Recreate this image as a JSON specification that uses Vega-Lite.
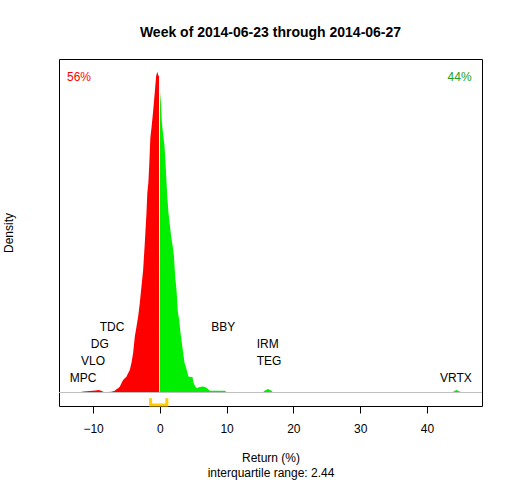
{
  "$schema": "https://vega.github.io/schema/vega-lite/v6.json",
  "autosize": {"type": "none"},
  "padding": {"left": 59, "top": 59, "right": 30, "bottom": 74},
  "width": 423,
  "height": 347,
  "background": "white",
  "title": {
    "text": "Week of 2014-06-23 through 2014-06-27",
    "font": "Liberation Sans",
    "fontSize": 14,
    "fontWeight": "bold",
    "color": "black",
    "anchor": "middle",
    "offset": 19
  },
  "datasets": {
    "density": [
      {"ret": -12.3, "dens": 0, "side": "neg"},
      {"ret": -11.4, "dens": 0.0008, "side": "neg"},
      {"ret": -10.5, "dens": 0.0012, "side": "neg"},
      {"ret": -9.6, "dens": 0.0016, "side": "neg"},
      {"ret": -9.15, "dens": 0.002, "side": "neg"},
      {"ret": -8.7, "dens": 0.0012, "side": "neg"},
      {"ret": -8.25, "dens": 0, "side": "neg"},
      {"ret": -7.8, "dens": 0.0004, "side": "neg"},
      {"ret": -7.25, "dens": 0.0006, "side": "neg"},
      {"ret": -6.75, "dens": 0.0014, "side": "neg"},
      {"ret": -6.5, "dens": 0.0025, "side": "neg"},
      {"ret": -6.25, "dens": 0.0033, "side": "neg"},
      {"ret": -6.0, "dens": 0.0045, "side": "neg"},
      {"ret": -5.75, "dens": 0.0072, "side": "neg"},
      {"ret": -5.5, "dens": 0.0098, "side": "neg"},
      {"ret": -5.25, "dens": 0.0111, "side": "neg"},
      {"ret": -5.0, "dens": 0.0123, "side": "neg"},
      {"ret": -4.75, "dens": 0.015, "side": "neg"},
      {"ret": -4.5, "dens": 0.0176, "side": "neg"},
      {"ret": -4.25, "dens": 0.023, "side": "neg"},
      {"ret": -4.0, "dens": 0.0309, "side": "neg"},
      {"ret": -3.75, "dens": 0.0436, "side": "neg"},
      {"ret": -3.5, "dens": 0.0514, "side": "neg"},
      {"ret": -3.25, "dens": 0.0592, "side": "neg"},
      {"ret": -3.0, "dens": 0.0699, "side": "neg"},
      {"ret": -2.75, "dens": 0.0827, "side": "neg"},
      {"ret": -2.5, "dens": 0.0957, "side": "neg"},
      {"ret": -2.25, "dens": 0.1168, "side": "neg"},
      {"ret": -2.0, "dens": 0.1402, "side": "neg"},
      {"ret": -1.87, "dens": 0.1559, "side": "neg"},
      {"ret": -1.72, "dens": 0.1637, "side": "neg"},
      {"ret": -1.57, "dens": 0.1793, "side": "neg"},
      {"ret": -1.42, "dens": 0.1988, "side": "neg"},
      {"ret": -1.2, "dens": 0.209, "side": "neg"},
      {"ret": -0.97, "dens": 0.2215, "side": "neg"},
      {"ret": -0.75, "dens": 0.2348, "side": "neg"},
      {"ret": -0.55, "dens": 0.2473, "side": "neg"},
      {"ret": -0.37, "dens": 0.2504, "side": "neg"},
      {"ret": -0.22, "dens": 0.2473, "side": "neg"},
      {"ret": -0.12, "dens": 0.2473, "side": "neg"},
      {"ret": -0.1, "dens": 0, "side": "neg"},
      {"ret": 0.01, "dens": 0, "side": "pos"},
      {"ret": 0.03, "dens": 0.2348, "side": "pos"},
      {"ret": 0.15, "dens": 0.2272, "side": "pos"},
      {"ret": 0.3, "dens": 0.2116, "side": "pos"},
      {"ret": 0.5, "dens": 0.2012, "side": "pos"},
      {"ret": 0.7, "dens": 0.1926, "side": "pos"},
      {"ret": 0.9, "dens": 0.1745, "side": "pos"},
      {"ret": 1.1, "dens": 0.1543, "side": "pos"},
      {"ret": 1.3, "dens": 0.1402, "side": "pos"},
      {"ret": 1.5, "dens": 0.1309, "side": "pos"},
      {"ret": 1.7, "dens": 0.1215, "side": "pos"},
      {"ret": 1.9, "dens": 0.1152, "side": "pos"},
      {"ret": 2.1, "dens": 0.1074, "side": "pos"},
      {"ret": 2.3, "dens": 0.0905, "side": "pos"},
      {"ret": 2.5, "dens": 0.0801, "side": "pos"},
      {"ret": 2.7, "dens": 0.0631, "side": "pos"},
      {"ret": 2.9, "dens": 0.0566, "side": "pos"},
      {"ret": 3.1, "dens": 0.0465, "side": "pos"},
      {"ret": 3.3, "dens": 0.0387, "side": "pos"},
      {"ret": 3.5, "dens": 0.0309, "side": "pos"},
      {"ret": 3.7, "dens": 0.0233, "side": "pos"},
      {"ret": 3.9, "dens": 0.0202, "side": "pos"},
      {"ret": 4.1, "dens": 0.0163, "side": "pos"},
      {"ret": 4.3, "dens": 0.0123, "side": "pos"},
      {"ret": 4.9, "dens": 0.0121, "side": "pos"},
      {"ret": 5.0, "dens": 0.0084, "side": "pos"},
      {"ret": 5.2, "dens": 0.0059, "side": "pos"},
      {"ret": 5.5, "dens": 0.0033, "side": "pos"},
      {"ret": 5.95, "dens": 0.0043, "side": "pos"},
      {"ret": 6.45, "dens": 0.0047, "side": "pos"},
      {"ret": 6.95, "dens": 0.0039, "side": "pos"},
      {"ret": 7.2, "dens": 0.0027, "side": "pos"},
      {"ret": 7.5, "dens": 0.0014, "side": "pos"},
      {"ret": 9.75, "dens": 0.0014, "side": "pos"},
      {"ret": 10.05, "dens": 0, "side": "pos"},
      {"ret": 15.4, "dens": 0, "side": "pos"},
      {"ret": 15.75, "dens": 0.0015, "side": "pos"},
      {"ret": 16.2, "dens": 0.0027, "side": "pos"},
      {"ret": 16.65, "dens": 0.0015, "side": "pos"},
      {"ret": 17.0, "dens": 0, "side": "pos"},
      {"ret": 43.75, "dens": 0, "side": "pos"},
      {"ret": 44.4, "dens": 0.0019, "side": "pos"},
      {"ret": 45.25, "dens": 0, "side": "pos"}
    ],
    "stocks": [
      {"symbol": "MPC", "ret": -11.5, "level": 0.0116},
      {"symbol": "VLO", "ret": -10.0, "level": 0.0246},
      {"symbol": "DG", "ret": -9.0, "level": 0.0377},
      {"symbol": "TDC", "ret": -7.15, "level": 0.0509},
      {"symbol": "BBY", "ret": 9.5, "level": 0.0509},
      {"symbol": "IRM", "ret": 16.15, "level": 0.0377},
      {"symbol": "TEG", "ret": 16.35, "level": 0.0246},
      {"symbol": "VRTX", "ret": 44.35, "level": 0.0116}
    ],
    "shares": [
      {"label": "56%", "ret": -12.1, "dens": 0.2459, "side": "neg"},
      {"label": "44%", "ret": 44.9, "dens": 0.2459, "side": "pos"}
    ],
    "iqr": [
      {"ret": -1.38, "dens": -0.0045, "ord": 1},
      {"ret": -1.38, "dens": -0.0098, "ord": 2},
      {"ret": 1.06, "dens": -0.0098, "ord": 3},
      {"ret": 1.06, "dens": -0.0045, "ord": 4}
    ]
  },
  "encoding": {
    "x": {
      "field": "ret",
      "type": "quantitative",
      "scale": {"domain": [-15.1, 48.25], "nice": false, "zero": false},
      "axis": {
        "title": ["Return (%)", "interquartile range: 2.44"],
        "values": [-10, 0, 10, 20, 30, 40],
        "domain": false,
        "grid": false,
        "tickSize": 7,
        "labelPadding": 10,
        "titlePadding": 18,
        "titleLineHeight": 15
      }
    },
    "y": {
      "field": "dens",
      "type": "quantitative",
      "scale": {"domain": [-0.0105, 0.2603], "nice": false, "zero": false},
      "axis": {
        "title": "Density",
        "labels": false,
        "ticks": false,
        "domain": false,
        "grid": false,
        "titlePadding": 44
      }
    }
  },
  "layer": [
    {
      "data": {"name": "density"},
      "mark": {"type": "area", "interpolate": "linear"},
      "encoding": {
        "color": {
          "field": "side",
          "type": "nominal",
          "scale": {"domain": ["neg", "pos"], "range": ["#ff0000", "#00ee00"]},
          "legend": null
        }
      }
    },
    {
      "data": {"values": [{"dens": 0}]},
      "mark": {"type": "rule", "color": "#bebebe", "strokeWidth": 1},
      "encoding": {"x": null}
    },
    {
      "data": {"name": "iqr"},
      "mark": {"type": "line", "color": "#ffcc00", "strokeWidth": 3, "strokeJoin": "miter"},
      "encoding": {"order": {"field": "ord", "type": "quantitative"}}
    },
    {
      "data": {"name": "stocks"},
      "mark": {"type": "text", "font": "Liberation Sans", "fontSize": 12, "color": "black", "baseline": "middle", "align": "center"},
      "encoding": {
        "y": {"field": "level", "type": "quantitative"},
        "text": {"field": "symbol", "type": "nominal"}
      }
    },
    {
      "data": {"name": "shares"},
      "mark": {"type": "text", "font": "Liberation Sans", "fontSize": 12, "baseline": "middle", "align": "center"},
      "encoding": {
        "text": {"field": "label", "type": "nominal"},
        "color": {
          "field": "side",
          "type": "nominal",
          "scale": {"domain": ["neg", "pos"], "range": ["#ff0000", "#22a022"]},
          "legend": null
        }
      }
    }
  ],
  "resolve": {"scale": {"color": "independent"}},
  "config": {
    "view": {"stroke": "black", "strokeWidth": 1},
    "axis": {
      "labelFont": "Liberation Sans",
      "labelFontSize": 12,
      "labelColor": "black",
      "tickColor": "black",
      "titleFont": "Liberation Sans",
      "titleFontSize": 12,
      "titleFontWeight": "normal",
      "titleColor": "black"
    }
  }
}
